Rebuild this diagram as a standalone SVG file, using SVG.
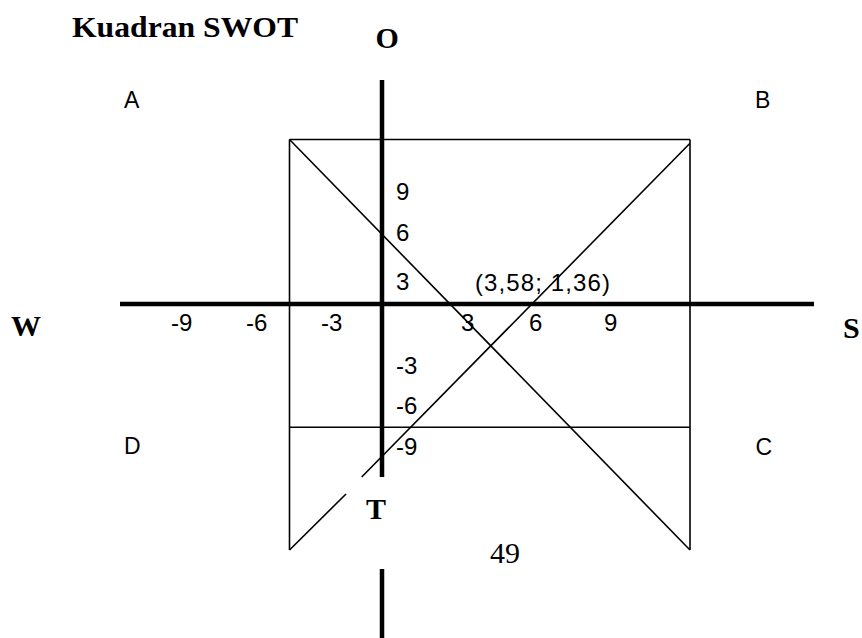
<svg xmlns="http://www.w3.org/2000/svg" width="862" height="638" viewBox="0 0 862 638">
<style>
.bg{fill:#fff}
.thin{stroke:#000;stroke-width:1.6;fill:none}
.axis{stroke:#000;stroke-width:4.5;fill:none}
.serif{font-family:"Liberation Serif","Times New Roman",serif;font-weight:bold;font-size:30px;fill:#000}
.num{font-family:"Liberation Sans",Arial,sans-serif;font-size:24px;fill:#000}
.lab{font-family:"Liberation Sans",Arial,sans-serif;font-size:23px;fill:#000}
</style>
<rect class="bg" x="0" y="0" width="862" height="638"/>
<g id="connectors">
  <line class="thin" x1="289.5" y1="139.5" x2="690" y2="139.5"/>
  <line class="thin" x1="289.5" y1="139.5" x2="289.5" y2="550"/>
  <line class="thin" x1="690" y1="139.5" x2="690" y2="550"/>
  <line class="thin" x1="289.5" y1="427.3" x2="690" y2="427.3"/>
  <line class="thin" x1="289.5" y1="139.5" x2="690" y2="550"/>
  <line class="thin" x1="690" y1="143.3" x2="361.7" y2="477"/>
  <line class="thin" x1="346" y1="494" x2="289.5" y2="550"/>
  <line class="axis" x1="120" y1="304" x2="814" y2="304"/>
  <line class="axis" x1="382" y1="80" x2="382" y2="477"/>
  <line class="axis" x1="382" y1="569" x2="382" y2="638"/>
</g>
<g id="title"><text class="serif" x="72" y="37" font-size="32" textLength="226" lengthAdjust="spacingAndGlyphs">Kuadran SWOT</text></g>
<g id="node-O"><text class="serif" x="375.5" y="47.5">O</text></g>
<g id="node-T"><text class="serif" x="366" y="519">T</text></g>
<g id="node-W"><text class="serif" x="11" y="336" font-size="29">W</text></g>
<g id="node-S"><text class="serif" x="843" y="338">S</text></g>
<g id="page-number"><text x="490" y="563" style="font-family:'Liberation Serif','Times New Roman',serif;font-size:30px;fill:#000">49</text></g>
<g id="quadrant-A"><text class="lab" x="124" y="108.3">A</text></g>
<g id="quadrant-B"><text class="lab" x="755" y="107.7">B</text></g>
<g id="quadrant-C"><text class="lab" x="755.5" y="454.7">C</text></g>
<g id="quadrant-D"><text class="lab" x="124" y="454.3">D</text></g>
<g id="x-ticks">
  <text class="num" x="171" y="331">-9</text>
  <text class="num" x="246" y="331">-6</text>
  <text class="num" x="321" y="331">-3</text>
  <text class="num" x="461" y="331">3</text>
  <text class="num" x="529" y="331">6</text>
  <text class="num" x="604" y="331">9</text>
</g>
<g id="y-ticks">
  <text class="num" x="396" y="200">9</text>
  <text class="num" x="396" y="241">6</text>
  <text class="num" x="396" y="289.5">3</text>
  <text class="num" x="396" y="373.5">-3</text>
  <text class="num" x="396" y="414">-6</text>
  <text class="num" x="396" y="455">-9</text>
</g>
<g id="point-label"><text class="num" x="475" y="290.5" textLength="135" lengthAdjust="spacing">(3,58; 1,36)</text></g>
</svg>
